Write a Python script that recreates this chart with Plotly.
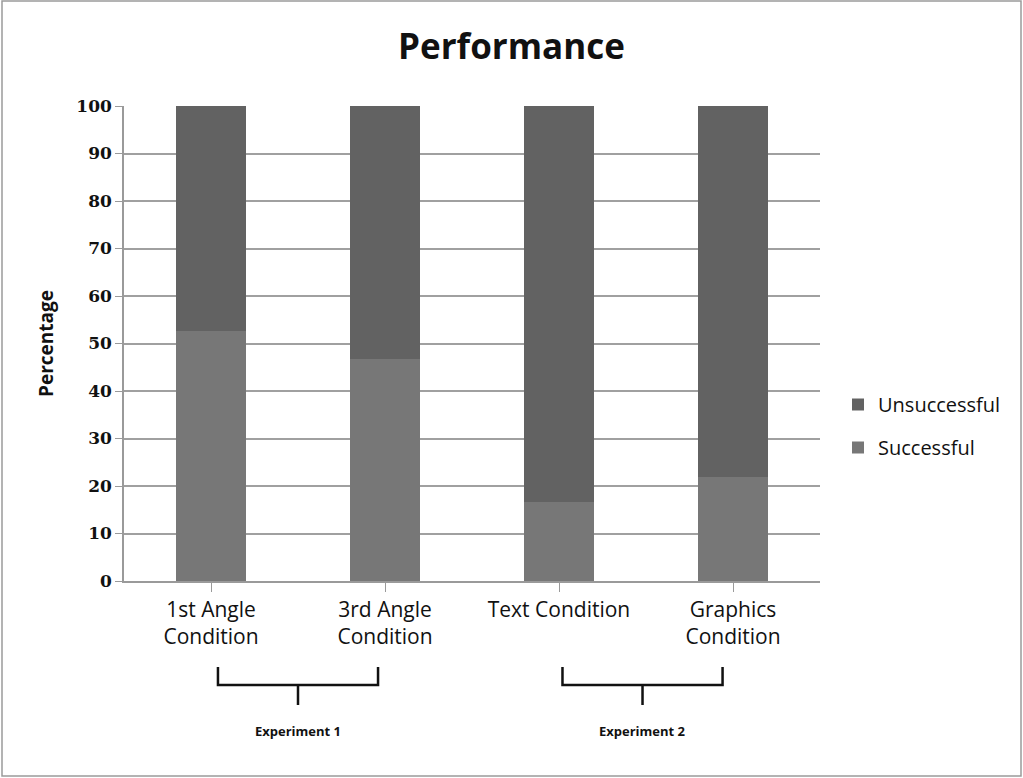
import plotly.graph_objects as go

categories = ["1st Angle<br>Condition", "3rd Angle<br>Condition", "Text Condition", "Graphics<br>Condition"]
successful = [52.6, 46.7, 16.6, 21.9]
unsuccessful = [47.4, 53.3, 83.4, 78.1]
y_ticks = [0, 10, 20, 30, 40, 50, 60, 70, 80, 90, 100]
group_labels = ["Experiment 1", "Experiment 2"]
group_members = [(0, 1), (2, 3)]

# brace styling (offsets from category centres, in category units)
brace_pad = [(0.04, -0.04), (0.02, -0.06)]

W, H = 1023, 778
L, R, T, B = 124, 203, 106, 197
PW, PH = W - L - R, H - T - B
SANS = "'Open Sans', Lato, sans-serif"
SERIF = "'DejaVu Serif', 'Liberation Serif', serif"

fig = go.Figure()
fig.add_trace(go.Bar(x=list(range(4)), y=successful, name="Successful",
                     marker=dict(color="#777777", line=dict(width=0)),
                     legendgroup="s", legendrank=2))
fig.add_trace(go.Bar(x=list(range(4)), y=unsuccessful, name="Unsuccessful",
                     marker=dict(color="#626262", line=dict(width=0)),
                     legendgroup="u", legendrank=1))

n = len(categories)
def xp(v):
    return (v + 0.5) / n
def yp(py):
    return (H - B - py) / PH

shapes = []
annotations = []
for label, (a, b), (pa, pb) in zip(group_labels, group_members, brace_pad):
    x0 = xp(a + pa)
    x1 = xp(b + pb)
    xm = (x0 + x1) / 2
    ytop, ymid, ybot = yp(667), yp(685), yp(705)
    shapes.append(dict(type="path", xref="paper", yref="paper",
                       path=f"M {x0},{ytop} L {x0},{ymid} L {x1},{ymid} L {x1},{ytop} M {xm},{ymid} L {xm},{ybot}",
                       line=dict(color="#111111", width=2.5)))
    annotations.append(dict(text=f"<b>{label}</b>", x=xm, y=yp(731), xref="paper", yref="paper",
                            xanchor="center", yanchor="middle",
                            showarrow=False, font=dict(size=13, family=SANS, color="#111111")))

# outer border
shapes.append(dict(type="rect", xref="paper", yref="paper",
                   x0=-(L - 2) / PW, x1=1 + (R - 2) / PW, y0=-(B - 2) / PH, y1=1 + (T - 1) / PH,
                   line=dict(color="#9a9a9a", width=1.5), fillcolor="rgba(0,0,0,0)", layer="below"))

fig.update_layout(
    width=W, height=H,
    margin=dict(l=L, r=R, t=T, b=B, autoexpand=False),
    barmode="stack", bargap=0.6,
    paper_bgcolor="white", plot_bgcolor="white",
    title=dict(text="<b>Performance</b>", x=0.5, xanchor="center", y=1 - 47 / H, yanchor="middle",
               font=dict(size=35, family=SANS, color="#111111")),
    font=dict(family=SANS, color="#111111"),
    legend=dict(x=1 + 18 / PW, y=yp(426), yanchor="middle", xanchor="left",
                traceorder="grouped", tracegroupgap=14,
                font=dict(size=20, family=SANS, color="#111111"), itemwidth=30,
                bgcolor="rgba(0,0,0,0)"),
    shapes=shapes, annotations=annotations,
)
fig.update_yaxes(range=[0, 100], tickvals=y_ticks, showgrid=True, gridcolor="#a0a0a0", gridwidth=1.5,
                 showline=True, linecolor="#9a9a9a", linewidth=1.5, ticks="outside", ticklen=7,
                 tickcolor="#9a9a9a", tickfont=dict(size=17, family=SERIF, color="#111111", weight="bold"),
                 zeroline=False,
                 title=dict(text="<b>Percentage</b>", font=dict(size=19, family=SANS, color="#111111"), standoff=18))
fig.update_xaxes(tickmode="array", tickvals=list(range(4)), ticktext=categories, range=[-0.5, 3.5],
                 showline=True, linecolor="#9a9a9a", linewidth=1.5, ticks="outside", ticklen=9,
                 tickson="boundaries", tickcolor="#9a9a9a", showgrid=False, zeroline=False,
                 tickfont=dict(size=21, family=SANS, color="#111111"))

fig.write_html("out.html", config={"displayModeBar": False},
               post_script="document.body.style.margin='0';")
